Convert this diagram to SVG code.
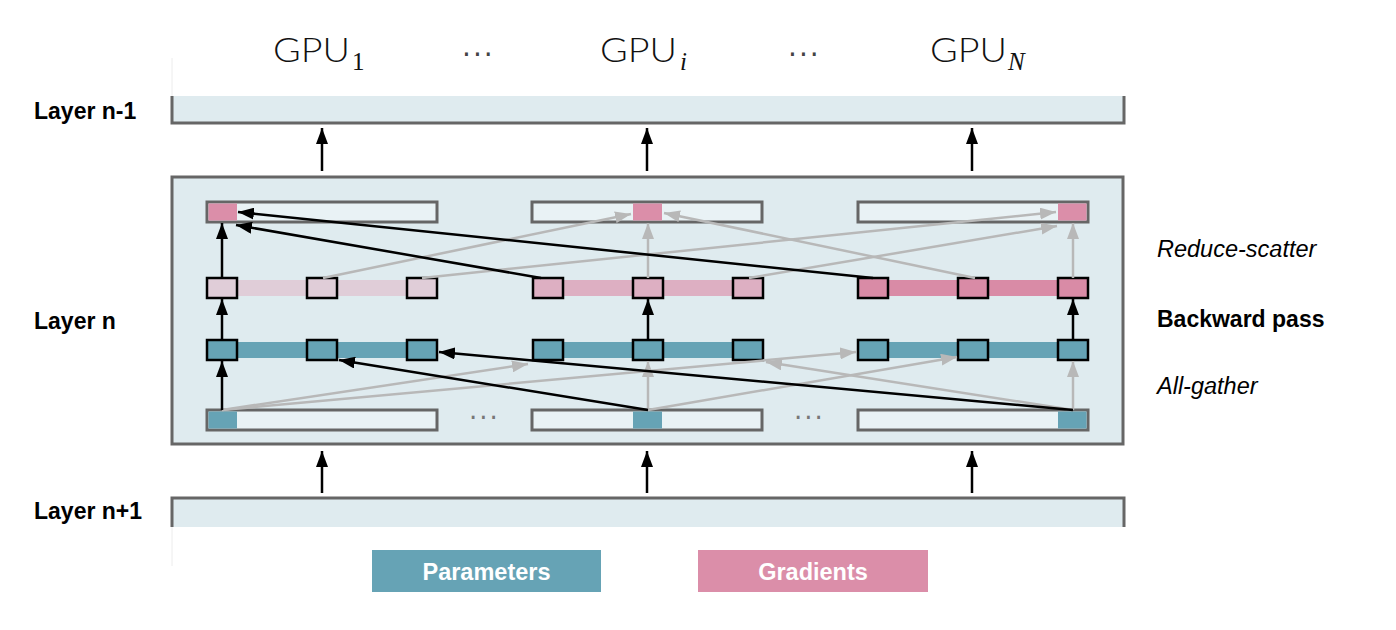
<svg xmlns="http://www.w3.org/2000/svg" width="1396" height="630" viewBox="0 0 1396 630">
<style>
.lbl{font-family:"Liberation Sans",Arial,sans-serif;font-size:23px;font-weight:bold;fill:#000}
.ital{font-family:"Liberation Sans",Arial,sans-serif;font-size:23.5px;font-style:italic;fill:#000}
.gpu{font-family:"Lato Light",Lato,"Liberation Sans",sans-serif;font-size:33px;font-weight:300;fill:#111}
.sub{font-family:"Liberation Serif","Times New Roman",serif;font-size:25px;fill:#111}
.subi{font-family:"Liberation Serif","Times New Roman",serif;font-size:25px;font-style:italic;fill:#111}
.leg{font-family:"Liberation Sans",Arial,sans-serif;font-size:23.5px;font-weight:bold;fill:#fff}
.bar{fill:#e9f2f5;stroke:#666;stroke-width:3}
.sq{stroke:#000;stroke-width:2.5}
.blk{stroke:#000;stroke-width:2.5;fill:none;marker-end:url(#ab)}
.gry{stroke:#b8b8b8;stroke-width:2.5;fill:none;marker-end:url(#ag)}
.lay{fill:#dfebef}
.brd{stroke:#666;stroke-width:3;fill:none}
.par{fill:#66a3b5}
.grd{fill:#db8ea9}
.dots{font-family:"DejaVu Sans",sans-serif;font-size:26px;fill:#777;letter-spacing:2px}
.tdots{font-family:"DejaVu Sans",sans-serif;font-size:28px;fill:#444;letter-spacing:2px}
</style>
<defs>
<marker id="ab" markerUnits="userSpaceOnUse" markerWidth="16" markerHeight="12" refX="16" refY="6" orient="auto"><path d="M0,0 L16,6 L0,12 z" fill="#000"/></marker>
<marker id="ag" markerUnits="userSpaceOnUse" markerWidth="16" markerHeight="12" refX="16" refY="6" orient="auto"><path d="M0,0 L16,6 L0,12 z" fill="#b8b8b8"/></marker>
</defs>
<rect width="1396" height="630" fill="#fff"/>

<g id="titles">
<text class="gpu" x="273" y="62" textLength="77" lengthAdjust="spacingAndGlyphs">GPU</text><text class="sub" x="352" y="70">1</text>
<text class="tdots" x="462" y="64">···</text>
<text class="gpu" x="600" y="62" textLength="77" lengthAdjust="spacingAndGlyphs">GPU</text><text class="subi" x="680" y="70">i</text>
<text class="tdots" x="788" y="64">···</text>
<text class="gpu" x="930" y="62" textLength="77" lengthAdjust="spacingAndGlyphs">GPU</text><text class="subi" x="1008" y="70">N</text>
</g>

<g id="layer-n-minus-1">
<line x1="172" y1="58" x2="172" y2="96" stroke="#ececec" stroke-width="1"/>
<rect class="lay" x="172" y="96" width="952" height="27"/>
<path class="brd" d="M172,96 V123 H1124 V96"/>
<text class="lbl" x="34" y="119">Layer n-1</text>
</g>

<g id="layer-n">
<rect x="172" y="177" width="951" height="267" fill="#dfebef" stroke="#666" stroke-width="3"/>
<text class="lbl" x="34" y="329">Layer n</text>
</g>

<g id="layer-n-plus-1">
<rect class="lay" x="172" y="498" width="952" height="29"/>
<path class="brd" d="M172,527 V498 H1124 V527"/>
<line x1="172" y1="527" x2="172" y2="566" stroke="#ececec" stroke-width="1"/>
<text class="lbl" x="34" y="519">Layer n+1</text>
</g>

<g id="gpu1">
<rect class="bar" x="207" y="202" width="230" height="20"/>
<rect class="grd" x="208.5" y="203.5" width="28.5" height="17"/>
<rect x="207" y="280" width="230" height="16" fill="#e0cdd8"/>
<rect class="sq" x="207" y="278" width="30" height="20" fill="#e0cdd8"/>
<rect class="sq" x="307" y="278" width="30" height="20" fill="#e0cdd8"/>
<rect class="sq" x="407" y="278" width="30" height="20" fill="#e0cdd8"/>
<rect x="207" y="342" width="230" height="16" class="par"/>
<rect class="sq par" x="207" y="340" width="30" height="20"/>
<rect class="sq par" x="307" y="340" width="30" height="20"/>
<rect class="sq par" x="407" y="340" width="30" height="20"/>
<rect class="bar" x="207" y="410" width="230" height="20"/>
<rect class="par" x="208.5" y="411.5" width="28.5" height="17"/>
</g>

<g id="gpui">
<rect class="bar" x="532" y="202" width="230" height="20"/>
<rect class="grd" x="633" y="203.5" width="29" height="17"/>
<rect x="533" y="280" width="230" height="16" fill="#ddafc2"/>
<rect class="sq" x="533" y="278" width="30" height="20" fill="#ddafc2"/>
<rect class="sq" x="633" y="278" width="30" height="20" fill="#ddafc2"/>
<rect class="sq" x="733" y="278" width="30" height="20" fill="#ddafc2"/>
<rect x="533" y="342" width="230" height="16" class="par"/>
<rect class="sq par" x="533" y="340" width="30" height="20"/>
<rect class="sq par" x="633" y="340" width="30" height="20"/>
<rect class="sq par" x="733" y="340" width="30" height="20"/>
<rect class="bar" x="532" y="410" width="230" height="20"/>
<rect class="par" x="633" y="411.5" width="29" height="17"/>
</g>

<g id="gpun">
<rect class="bar" x="858" y="202" width="230" height="20"/>
<rect class="grd" x="1058" y="203.5" width="28.5" height="17"/>
<rect x="858" y="280" width="230" height="16" fill="#d98ba6"/>
<rect class="sq" x="858" y="278" width="30" height="20" fill="#d98ba6"/>
<rect class="sq" x="958" y="278" width="30" height="20" fill="#d98ba6"/>
<rect class="sq" x="1058" y="278" width="30" height="20" fill="#d98ba6"/>
<rect x="858" y="342" width="230" height="16" class="par"/>
<rect class="sq par" x="858" y="340" width="30" height="20"/>
<rect class="sq par" x="958" y="340" width="30" height="20"/>
<rect class="sq par" x="1058" y="340" width="30" height="20"/>
<rect class="bar" x="858" y="410" width="230" height="20"/>
<rect class="par" x="1058" y="411.5" width="28.5" height="17"/>
</g>

<g id="ellipses">
<text class="dots" x="469" y="427">···</text>
<text class="dots" x="794" y="427">···</text>
</g>

<g id="side-labels">
<text class="ital" x="1157" y="257">Reduce-scatter</text>
<text class="lbl" x="1157" y="327">Backward pass</text>
<text class="ital" x="1157" y="394">All-gather</text>
</g>

<g id="legend">
<rect class="par" x="372" y="550" width="229" height="42"/>
<text class="leg" x="486.5" y="580" text-anchor="middle">Parameters</text>
<rect class="grd" x="698" y="550" width="230" height="42"/>
<text class="leg" x="813" y="580" text-anchor="middle">Gradients</text>
</g>

<g id="connectors">
<line class="blk" x1="322" y1="493" x2="322" y2="451"/>
<line class="blk" x1="647" y1="493" x2="647" y2="451"/>
<line class="blk" x1="972" y1="493" x2="972" y2="451"/>
<line class="blk" x1="322" y1="171" x2="322" y2="128"/>
<line class="blk" x1="647" y1="171" x2="647" y2="128"/>
<line class="blk" x1="972" y1="171" x2="972" y2="128"/>
<line class="gry" x1="222" y1="410" x2="528" y2="364"/>
<line class="gry" x1="222" y1="410" x2="856" y2="352"/>
<line class="gry" x1="648" y1="410" x2="648" y2="361"/>
<line class="gry" x1="648" y1="410" x2="957" y2="357"/>
<line class="gry" x1="1073" y1="410" x2="1073" y2="361"/>
<line class="gry" x1="1073" y1="410" x2="766" y2="362"/>
<line class="gry" x1="648" y1="278" x2="648" y2="223"/>
<line class="gry" x1="1073" y1="278" x2="1073" y2="223"/>
<line class="gry" x1="323" y1="278" x2="631" y2="214"/>
<line class="gry" x1="422" y1="278" x2="1056" y2="212"/>
<line class="gry" x1="749" y1="278" x2="1057" y2="226"/>
<line class="gry" x1="975" y1="278" x2="664" y2="213"/>
<line class="blk" x1="222" y1="410" x2="222" y2="361"/>
<line class="blk" x1="222" y1="340" x2="222" y2="299"/>
<line class="blk" x1="222" y1="278" x2="222" y2="223"/>
<line class="blk" x1="648" y1="340" x2="648" y2="299"/>
<line class="blk" x1="1073" y1="340" x2="1073" y2="299"/>
<line class="blk" x1="648" y1="410" x2="339" y2="360"/>
<line class="blk" x1="1073" y1="410" x2="439" y2="352"/>
<line class="blk" x1="541" y1="278" x2="236" y2="225"/>
<line class="blk" x1="873" y1="278" x2="238" y2="212"/>
</g>
</svg>
